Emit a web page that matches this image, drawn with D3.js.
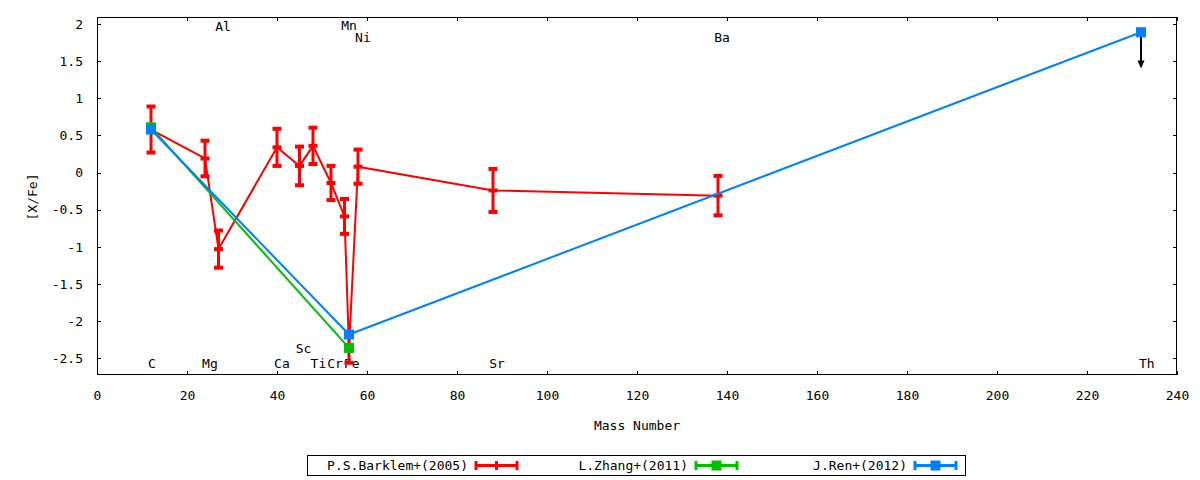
<!DOCTYPE html>
<html><head><meta charset="utf-8">
<script src="https://cdn.jsdelivr.net/npm/d3@7"></script>
<style>
html,body{margin:0;padding:0;background:#fff;}
text{font-family:"DejaVu Sans Mono",monospace;font-size:13px;fill:#000;}
</style></head>
<body><svg id="c" width="1200" height="480"></svg>
<script>
// ---- data ----
const xTicks = [0,20,40,60,80,100,120,140,160,180,200,220,240];
const yTicks = [-2.5,-2,-1.5,-1,-0.5,0,0.5,1,1.5,2];
const xLabel = "Mass Number";
const yLabel = "[X/Fe]";

const seriesNames = ["P.S.Barklem+(2005)","L.Zhang+(2011)","J.Ren+(2012)"];
const seriesColors = ["#ff0000","#00c000","#0080ff"];

const barklemMass = [12,24,27,40,45,48,52,55,56,58,88,138];
const barklemVal  = [0.58,0.19,-1.03,0.34,0.09,0.36,-0.14,-0.59,-2.36,0.08,-0.24,-0.31];
const barklemErr  = [0.31,0.24,0.25,0.25,0.26,0.245,0.23,0.235,0.20,0.23,0.29,0.265];

const zhangMass = [12,56];
const zhangVal  = [0.61,-2.36];

const renMass = [12,56,232];
const renVal  = [0.58,-2.18,1.89];
const renLimitTo = [null,null,1.40];   // upper limit arrow end

const elemNames = ["C","Mg","Al","Ca","Sc","Ti","Cr","Fe","Mn","Ni","Sr","Ba","Th"];
const elemX     = [12.2,25.1,28.0,41.1,45.9,49.2,52.9,56.6,56.0,59.1,88.9,138.9,233.3];
const elemY     = [-2.57,-2.57,1.97,-2.57,-2.37,-2.57,-2.57,-2.57,1.98,1.82,-2.57,1.82,-2.57];

// ---- layout ----
const L=97, R=1177, T=17, B=375;
const svg = d3.select("#c");
const x = d3.scaleLinear().domain([0,240]).range([L,R]);
const y = d3.scaleLinear().domain([-2.725,2.095]).range([B,T]);
const fmt = d => String(d);

// axes
svg.append("g").attr("transform",`translate(0,${B})`)
  .call(d3.axisBottom(x).tickValues(xTicks).tickFormat(fmt).tickSizeInner(-4).tickSizeOuter(0).tickPadding(16));
svg.append("g").attr("transform",`translate(0,${T})`)
  .call(d3.axisTop(x).tickValues(xTicks).tickFormat("").tickSizeInner(-4).tickSizeOuter(0));
svg.append("g").attr("transform",`translate(${L},0)`)
  .call(d3.axisLeft(y).tickValues(yTicks).tickFormat(fmt).tickSizeInner(-4).tickSizeOuter(0).tickPadding(14));
svg.append("g").attr("transform",`translate(${R},0)`)
  .call(d3.axisRight(y).tickValues(yTicks).tickFormat("").tickSizeInner(-4).tickSizeOuter(0));
svg.selectAll(".domain").remove();
svg.selectAll(".tick line").attr("stroke","#000").attr("shape-rendering","crispEdges");
svg.selectAll(".tick text").style("font-family","'DejaVu Sans Mono',monospace").style("font-size","13px");
svg.append("rect").attr("x",L+0.5).attr("y",T+0.5).attr("width",R-L-1).attr("height",B-T-1)
  .attr("fill","none").attr("stroke","#000").attr("stroke-width",1.2).attr("shape-rendering","crispEdges");

svg.append("text").attr("x",(L+R)/2).attr("y",430).attr("text-anchor","middle").text(xLabel);
svg.append("text").attr("transform","translate(32,197) rotate(-90)").attr("text-anchor","middle")
  .attr("dominant-baseline","central").text(yLabel);

// element labels
elemNames.forEach((n,i)=>{
  svg.append("text").attr("x",x(elemX[i])).attr("y",y(elemY[i])).attr("text-anchor","middle")
    .attr("dominant-baseline","central").text(n);
});

const line = d3.line().x(d=>x(d[0])).y(d=>y(d[1]));
const g = svg.append("g");

// Barklem: yerrorlines
const red = seriesColors[0];
g.append("path").datum(barklemMass.map((m,i)=>[m,barklemVal[i]])).attr("d",line)
  .attr("fill","none").attr("stroke",red).attr("stroke-width",2);
barklemMass.forEach((m,i)=>{
  const cx=x(m), y1=y(barklemVal[i]+barklemErr[i]), y2=y(barklemVal[i]-barklemErr[i]);
  g.append("line").attr("x1",cx).attr("x2",cx).attr("y1",y1).attr("y2",y2).attr("stroke",red).attr("stroke-width",3);
  [y1,y2].forEach(yy=>g.append("rect").attr("x",cx-4.5).attr("y",yy-2).attr("width",9).attr("height",4).attr("fill",red));
  g.append("rect").attr("x",cx-4.5).attr("y",y(barklemVal[i])-2).attr("width",9).attr("height",4).attr("fill",red);
});

// Zhang
const green = seriesColors[1];
g.append("path").datum(zhangMass.map((m,i)=>[m,zhangVal[i]])).attr("d",line)
  .attr("fill","none").attr("stroke",green).attr("stroke-width",2);
zhangMass.forEach((m,i)=>g.append("rect").attr("x",x(m)-5).attr("y",y(zhangVal[i])-5).attr("width",10).attr("height",10).attr("fill",green));

// Ren
const blue = seriesColors[2];
g.append("path").datum(renMass.map((m,i)=>[m,renVal[i]])).attr("d",line)
  .attr("fill","none").attr("stroke",blue).attr("stroke-width",2);
renMass.forEach((m,i)=>{
  if(renLimitTo[i]!==null){
    const cx=x(m), ya=y(renVal[i]), yb=y(renLimitTo[i]);
    g.append("line").attr("x1",cx).attr("x2",cx).attr("y1",ya).attr("y2",yb-6).attr("stroke","#000").attr("stroke-width",2);
    g.append("path").attr("d",`M${cx-3.5},${yb-8}L${cx+3.5},${yb-8}L${cx},${yb}Z`).attr("fill","#000");
  }
});
renMass.forEach((m,i)=>g.append("rect").attr("x",x(m)-5).attr("y",y(renVal[i])-5).attr("width",10).attr("height",10).attr("fill",blue));

// legend
const lg = svg.append("g");
lg.append("rect").attr("x",307.5).attr("y",455.5).attr("width",658).attr("height",20)
  .attr("fill","#fff").attr("stroke","#000").attr("stroke-width",1.2).attr("shape-rendering","crispEdges");
const legTextX = [468,688,907];
const legMid = 465.5;
seriesNames.forEach((n,i)=>{
  lg.append("text").attr("x",legTextX[i]).attr("y",legMid).attr("text-anchor","end")
    .attr("dominant-baseline","central").text(n);
  const x0=legTextX[i]+8, x1=x0+41, c=seriesColors[i];
  lg.append("line").attr("x1",x0).attr("x2",x1).attr("y1",legMid).attr("y2",legMid).attr("stroke",c).attr("stroke-width",3);
  [x0,x1].forEach(xx=>lg.append("rect").attr("x",xx-1.5).attr("y",legMid-4.5).attr("width",3).attr("height",9).attr("fill",c));
  if(i===0) lg.append("rect").attr("x",(x0+x1)/2-1.5).attr("y",legMid-4.5).attr("width",3).attr("height",9).attr("fill",c);
  else lg.append("rect").attr("x",(x0+x1)/2-5).attr("y",legMid-5).attr("width",10).attr("height",10).attr("fill",c);
});
</script></body></html>
